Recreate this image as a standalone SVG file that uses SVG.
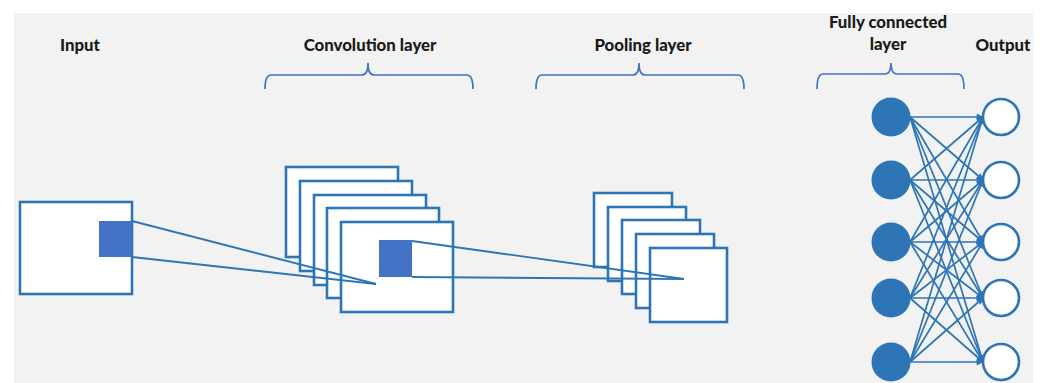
<svg xmlns="http://www.w3.org/2000/svg" width="1046" height="383" viewBox="0 0 1046 383">
  <style>
    .label { font-family: Lato, "Open Sans", "Liberation Sans", sans-serif; font-weight: 900; font-size: 16.8px; fill: #1a1a1a; text-anchor: middle; }
    .map { fill: #ffffff; stroke: #2e75b6; stroke-width: 2.6; }
    .kernel { fill: #4472c4; stroke: none; }
    .brace { fill: none; stroke: #4472c4; stroke-width: 1.7; }
    .proj { stroke: #2e75b6; stroke-width: 1.9; fill: none; }
    .fc { stroke: #2e75b6; stroke-width: 1.7; fill: none; marker-end: url(#arrow); }
    .hidden { fill: #2e75b6; stroke: none; }
    .out { fill: #ffffff; stroke: #2e75b6; stroke-width: 2.6; }
  </style>
  <defs>
    <marker id="arrow" viewBox="0 0 10 10" refX="9" refY="5" markerWidth="8" markerHeight="7" markerUnits="userSpaceOnUse" orient="auto">
      <path d="M0,0 L10,5 L0,10 z" fill="#2e75b6"/>
    </marker>
  </defs>

  <!-- canvas -->
  <rect x="0" y="0" width="1046" height="383" fill="#ffffff"/>
  <rect x="14" y="13" width="1019" height="370" fill="#f2f2f2"/>

  <!-- headings -->
  <g id="labels">
    <text class="label" x="80" y="51">Input</text>
    <text class="label" x="370" y="51">Convolution layer</text>
    <text class="label" x="643" y="51">Pooling layer</text>
    <text class="label" x="888" y="28">Fully connected</text>
    <text class="label" x="888" y="50">layer</text>
    <text class="label" x="1003" y="51">Output</text>
  </g>

  <!-- braces -->
  <g id="braces">
    <path class="brace" d="M265,89 Q265,75 271,75 L362,75 Q368,75 368,63 Q368,75 374,75 L467,75 Q473,75 473,89"/>
    <path class="brace" d="M536,89 Q536,75 542,75 L633,75 Q639,75 639,63 Q639,75 645,75 L738,75 Q744,75 744,89"/>
    <path class="brace" d="M817,89 Q817,74 823,74 L885,74 Q891,74 891,63 Q891,74 897,74 L958,74 Q964,74 964,89"/>
  </g>

  <!-- input image -->
  <g id="input">
    <rect class="map" x="20" y="202" width="112" height="92"/>
    <rect class="kernel" x="99" y="221" width="33" height="36"/>
  </g>

  <!-- convolution feature maps -->
  <g id="conv">
    <rect class="map" x="286" y="167" width="112" height="90"/>
    <rect class="map" x="300" y="181" width="112" height="90"/>
    <rect class="map" x="314" y="195" width="112" height="90"/>
    <rect class="map" x="327" y="208" width="112" height="90"/>
    <rect class="map" x="341" y="222" width="112" height="90"/>
    <rect class="kernel" x="379" y="240" width="33" height="37"/>
  </g>

  <!-- pooled maps -->
  <g id="pool">
    <rect class="map" x="594" y="193" width="78" height="74"/>
    <rect class="map" x="608" y="207" width="78" height="74"/>
    <rect class="map" x="622" y="220" width="78" height="74"/>
    <rect class="map" x="636" y="234" width="78" height="74"/>
    <rect class="map" x="650" y="248" width="77" height="74"/>
  </g>

  <!-- receptive field projections -->
  <g id="projections">
    <line class="proj" x1="132" y1="221" x2="376" y2="284"/>
    <line class="proj" x1="132" y1="257" x2="376" y2="284"/>
    <line class="proj" x1="412" y1="241" x2="684" y2="279"/>
    <line class="proj" x1="412" y1="277" x2="684" y2="279"/>
  </g>

  <!-- dense connections -->
  <g id="connectors">
    <line class="fc" x1="910" y1="117" x2="983" y2="117"/>
    <line class="fc" x1="910" y1="117" x2="983" y2="180"/>
    <line class="fc" x1="910" y1="117" x2="983" y2="242"/>
    <line class="fc" x1="910" y1="117" x2="983" y2="298"/>
    <line class="fc" x1="910" y1="117" x2="983" y2="362"/>
    <line class="fc" x1="910" y1="180" x2="983" y2="117"/>
    <line class="fc" x1="910" y1="180" x2="983" y2="180"/>
    <line class="fc" x1="910" y1="180" x2="983" y2="242"/>
    <line class="fc" x1="910" y1="180" x2="983" y2="298"/>
    <line class="fc" x1="910" y1="180" x2="983" y2="362"/>
    <line class="fc" x1="910" y1="242" x2="983" y2="117"/>
    <line class="fc" x1="910" y1="242" x2="983" y2="180"/>
    <line class="fc" x1="910" y1="242" x2="983" y2="242"/>
    <line class="fc" x1="910" y1="242" x2="983" y2="298"/>
    <line class="fc" x1="910" y1="242" x2="983" y2="362"/>
    <line class="fc" x1="910" y1="298" x2="983" y2="117"/>
    <line class="fc" x1="910" y1="298" x2="983" y2="180"/>
    <line class="fc" x1="910" y1="298" x2="983" y2="242"/>
    <line class="fc" x1="910" y1="298" x2="983" y2="298"/>
    <line class="fc" x1="910" y1="298" x2="983" y2="362"/>
    <line class="fc" x1="910" y1="362" x2="983" y2="117"/>
    <line class="fc" x1="910" y1="362" x2="983" y2="180"/>
    <line class="fc" x1="910" y1="362" x2="983" y2="242"/>
    <line class="fc" x1="910" y1="362" x2="983" y2="298"/>
    <line class="fc" x1="910" y1="362" x2="983" y2="362"/>
  </g>

  <!-- fully connected units -->
  <g id="fc-units">
    <circle class="hidden" cx="891" cy="117" r="19.5"/>
    <circle class="hidden" cx="891" cy="180" r="19.5"/>
    <circle class="hidden" cx="891" cy="242" r="19.5"/>
    <circle class="hidden" cx="891" cy="298" r="19.5"/>
    <circle class="hidden" cx="891" cy="362" r="19.5"/>
  </g>

  <!-- output units -->
  <g id="output-units">
    <circle class="out" cx="1001" cy="117" r="18"/>
    <circle class="out" cx="1001" cy="180" r="18"/>
    <circle class="out" cx="1001" cy="242" r="18"/>
    <circle class="out" cx="1001" cy="298" r="18"/>
    <circle class="out" cx="1001" cy="362" r="18"/>
  </g>
</svg>
